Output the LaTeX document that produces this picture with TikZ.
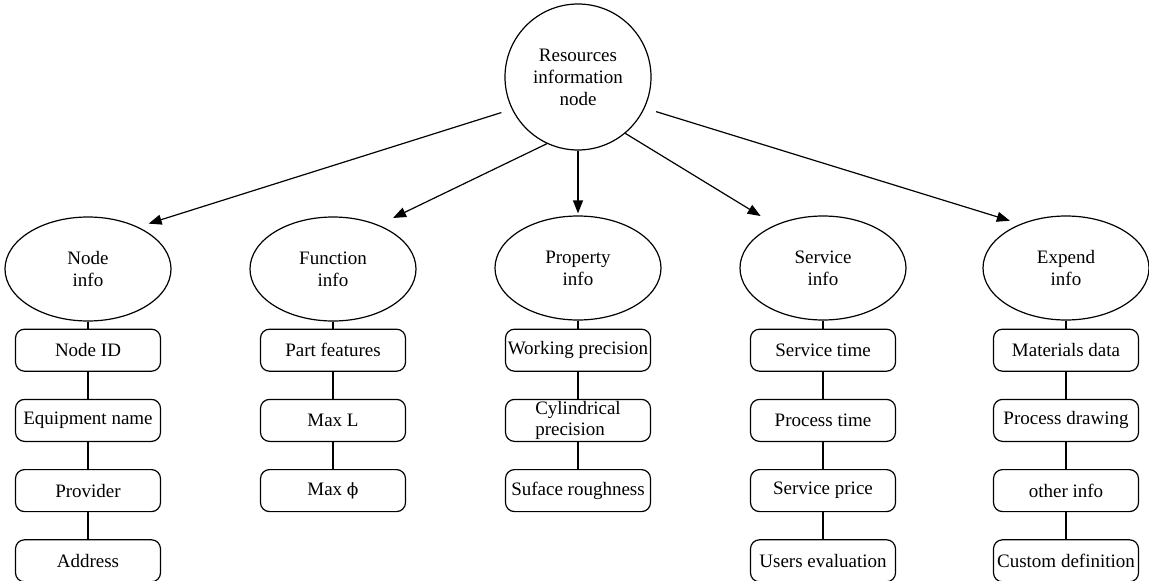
\documentclass[tikz,border=0pt]{standalone}
\usepackage{fontspec}
\setmainfont{Liberation Serif}
\newfontfamily\grk{DejaVu Serif}
\usetikzlibrary{arrows.meta,positioning,shapes.geometric}

\begin{document}
\begin{tikzpicture}[>={Triangle[length=13pt,width=10pt]},line width=1.2pt,
    node distance=27pt,font=\fontsize{19}{22}\selectfont,
    res/.style={circle,draw,minimum size=146pt,inner sep=0pt,align=center},
    info/.style={ellipse,draw,minimum width=166pt,minimum height=104pt,
      inner sep=0pt,align=center},
    item/.style={draw,rounded corners=9pt,minimum width=145pt,
      minimum height=42pt,inner sep=1pt,align=center}]
  \useasboundingbox (0,0) rectangle (1149pt,-581pt);
  \node[res] (rs) at (578pt,-77pt) {Resources\\information\\node};
  \node[info] (ni) at (88pt,-269pt) {Node\\info};
  \node[info] (fi) at (333pt,-269pt) {Function\\info};
  \node[info] (pi) at (578pt,-268pt) {Property\\info};
  \node[info] (si) at (823pt,-268pt) {Service\\info};
  \node[info] (ei) at (1066pt,-268pt) {Expend\\info};
  % node info
  \node[item] (ni1) [below=7pt of ni] {Node ID};
  \node[item] (ni2) [below=of ni1] {Equipment name};
  \node[item] (ni3) [below=of ni2] {Provider};
  \node[item] (ni4) [below=of ni3] {Address};
  % function info
  \node[item] (fi1) [below=7pt of fi] {Part features};
  \node[item] (fi2) [below=of fi1] {Max L};
  \node[item] (fi3) [below=of fi2] {Max {\grk\fontsize{17}{22}\selectfont ϕ}};
  % property info
  \node[item] (pi1) [below=8pt of pi] {Working precision};
  \node[item, align=left, font=\fontsize{19}{21}\selectfont] (pi2)
    [below=of pi1] {Cylindrical\\precision};
  \node[item] (pi3) [below=of pi2] {Suface roughness};
  % service info
  \node[item] (si1) [below=8pt of si] {Service time};
  \node[item] (si2) [below=of si1] {Process time};
  \node[item] (si3) [below=of si2] {Service price};
  \node[item] (si4) [below=of si3] {Users evaluation};
  % expend info
  \node[item] (ei1) [below=8pt of ei] {Materials data};
  \node[item] (ei2) [below=of ei1] {Process drawing};
  \node[item] (ei3) [below=of ei2] {other info};
  \node[item] (ei4) [below=of ei3] {Custom definition};
  % arrows from the root
  \draw[->,shorten <=11pt,shorten >=11pt] (rs.206) -- (ni.40);
  \draw[->,shorten >=16pt] (rs.245) -- (fi.44);
  \draw[->,shorten >=2pt] (rs) -- (pi);
  \draw[->,shorten >=17pt] (rs.310) -- (si.138);
  \draw[->,shorten <=12pt,shorten >=11pt] (rs.335) -- (ei.136);
  % columns
  \draw (ni) -- (ni1) -- (ni2) -- (ni3) -- (ni4);
  \draw (fi) -- (fi1) -- (fi2) -- (fi3);
  \draw (pi) -- (pi1) -- (pi2) -- (pi3);
  \draw (si) -- (si1) -- (si2) -- (si3) -- (si4);
  \draw (ei) -- (ei1) -- (ei2) -- (ei3) -- (ei4);
\end{tikzpicture}
\end{document}
